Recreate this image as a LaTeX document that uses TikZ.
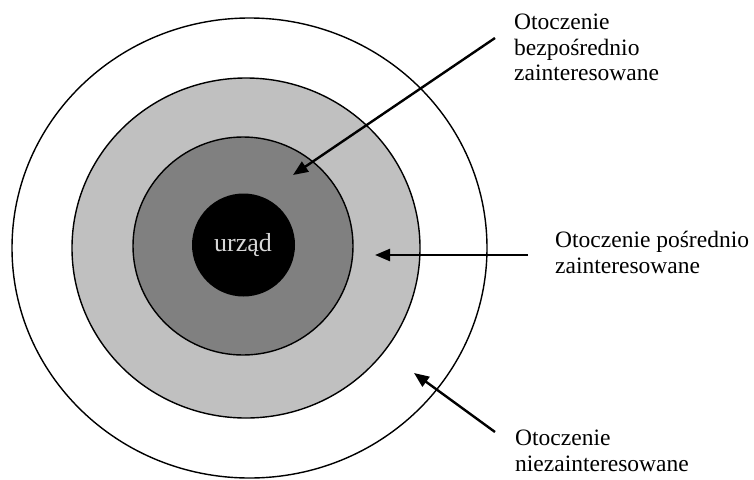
\documentclass[tikz,border=0pt]{standalone}
\usepackage{fontspec}
\setmainfont{Liberation Serif}
\usetikzlibrary{arrows.meta}
\definecolor{ringlight}{RGB}{192,192,192}
\definecolor{ringdark}{RGB}{128,128,128}
\definecolor{urzadtext}{RGB}{215,215,215}
\begin{document}
\begin{tikzpicture}[x=1pt,y=-1pt,
  ring/.style={draw=black,line width=1.4pt},
  lbl/.style={anchor=base west,inner sep=0pt,align=left,font=\fontsize{23.5}{25.5}\selectfont},
  pointer/.style={draw=black,line width=2.4pt,-{Triangle[length=15pt,width=12pt]}}]
\useasboundingbox (0,0) rectangle (754,479);
\draw[ring,fill=white] (249.5,248) ellipse [x radius=237.5,y radius=230];
\draw[ring,fill=ringlight] (246,248) ellipse [x radius=174,y radius=170];
\draw[ring,fill=ringdark] (243,246) ellipse [x radius=110,y radius=109];
\node[circle,fill=black,minimum size=103pt,inner sep=0pt] (core) at (243.5,245) {};
\node[anchor=base,inner sep=0pt,text=urzadtext,font=\fontsize{26}{28}\selectfont] (urzad) at (243,251) {urząd};
\node[lbl] (l1) at (514,80.5) {Otoczenie\\bezpośrednio\\zainteresowane};
\node[lbl] (l2) at (555,273) {Otoczenie pośrednio\\zainteresowane};
\node[lbl] (l3) at (515,471) {Otoczenie\\niezainteresowane};
\coordinate (s1) at (495,38);
\coordinate (t1) at (293,175);
\coordinate (s2) at (528,255);
\coordinate (t2) at (375,255);
\coordinate (s3) at (495,432);
\coordinate (t3) at (414,373);
\draw[pointer] (s1) -- (t1);
\draw[pointer] (s2) -- (t2);
\draw[pointer] (s3) -- (t3);
\end{tikzpicture}
\end{document}
